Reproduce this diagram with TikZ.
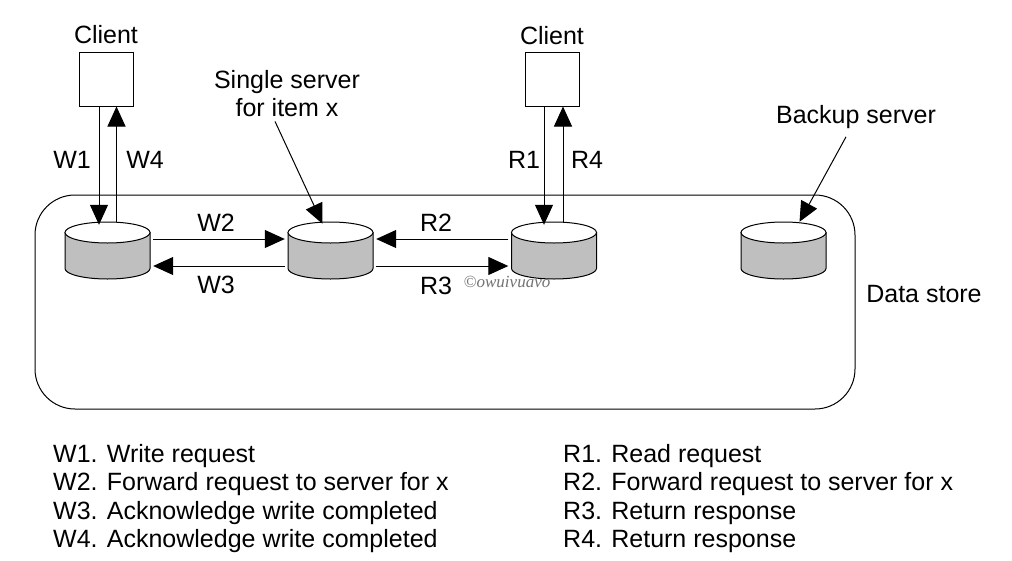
\documentclass[tikz,border=0pt]{standalone}
\usepackage{fontspec}
\setmainfont{Liberation Sans}
\newfontfamily\wmfont{Liberation Serif}
\usetikzlibrary{arrows.meta,calc}
\tikzset{
 lab/.style={inner sep=0pt,font=\fontsize{25}{28}\selectfont,align=center},
 legend/.style={inner sep=0pt,anchor=west,font=\fontsize{25}{28.4}\selectfont,align=left},
 clientbox/.style={draw=black,line width=1pt,minimum width=54pt,minimum height=54pt,inner sep=0pt},
 conn/.style={draw=black,line width=1pt,-{Triangle[length=20pt,width=18pt]}},
 store/.style={draw=black,line width=1pt,rounded corners=40pt},
 diskanchor/.style={minimum width=85pt,minimum height=57pt,inner sep=0pt},
}
\newcommand{\disk}[3]{%
 \node[diskanchor] (#1) at (#2,#3) {};
 \path[draw=black,line width=1pt,fill=black!25] (#2-42.5,#3-18) -- (#2-42.5,#3+18) arc[start angle=180,end angle=0,x radius=42.5,y radius=10.5] -- (#2+42.5,#3-18) -- cycle;
 \path[draw=black,line width=1pt,fill=white] (#2,#3-18) ellipse[x radius=42.5,y radius=10.5];
}
\begin{document}
\begin{tikzpicture}[x=1pt,y=-1pt]
\useasboundingbox (0,0) rectangle (1012,560);
\fill[white] (0,0) rectangle (1012,560);
\draw[store] (35,195) rectangle (855,409);
\disk{s1}{107.5}{250.5}
\disk{s2}{330.5}{250.5}
\disk{s3}{554}{250.5}
\disk{s4}{783.5}{250.5}
\node[clientbox] (c1) at (106,79) {};
\node[clientbox] (c2) at (552,79) {};
\node[lab] at (106,35) {Client};
\node[lab] at (552,36) {Client};
\node[lab] (single) at (287,94) {Single server\\for item x};
\node[lab] (backup) at (856,117) {Backup server};
\node[lab] at (924,294) {Data store};
\node[lab] at (72,160) {W1};
\node[lab] at (145,160) {W4};
\node[lab] at (524,160) {R1};
\node[lab] at (587,160) {R4};
\node[lab] at (216,223) {W2};
\node[lab] at (216,285) {W3};
\node[lab] at (436,223) {R2};
\node[lab] at (436,286) {R3};
\node[inner sep=0pt,text=black!55,font=\wmfont\itshape\fontsize{17}{20}\selectfont] at (507,282) {©owuivuavo};
\draw[conn] ([xshift=-7pt]c1.south) -- ([xshift=-8.5pt,yshift=-3pt]s1.north);
\draw[conn] ([xshift=9pt,yshift=0pt]s1.north) -- ([xshift=10.5pt]c1.south);
\draw[conn] ([xshift=-8pt]c2.south) -- ([xshift=-10pt,yshift=-3pt]s3.north);
\draw[conn] ([xshift=9pt,yshift=0pt]s3.north) -- ([xshift=11pt]c2.south);
\draw[conn] ([shift={(3,-11.5)}]s1.east) -- ([shift={(-3,-11.5)}]s2.west);
\draw[conn] ([shift={(-3,15.5)}]s2.west) -- ([shift={(3,15.5)}]s1.east);
\draw[conn] ([shift={(-3,-11.5)}]s3.west) -- ([shift={(3,-11.5)}]s2.east);
\draw[conn] ([shift={(3,15.5)}]s2.east) -- ([shift={(-3,15.5)}]s3.west);
\draw[conn] (single.south) ++(-12,4) -- ([xshift=-8pt,yshift=-2pt]s2.north);
\draw[conn] (backup.south) ++(-10,8) -- ([xshift=16pt]s4.north);
\node[legend] at (53,498.5) {W1. Write request\\W2. Forward request to server for x\\W3. Acknowledge write completed\\W4. Acknowledge write completed};
\node[legend] at (563,498.5) {R1. Read request\\R2. Forward request to server for x\\R3. Return response\\R4. Return response};
\end{tikzpicture}
\end{document}
